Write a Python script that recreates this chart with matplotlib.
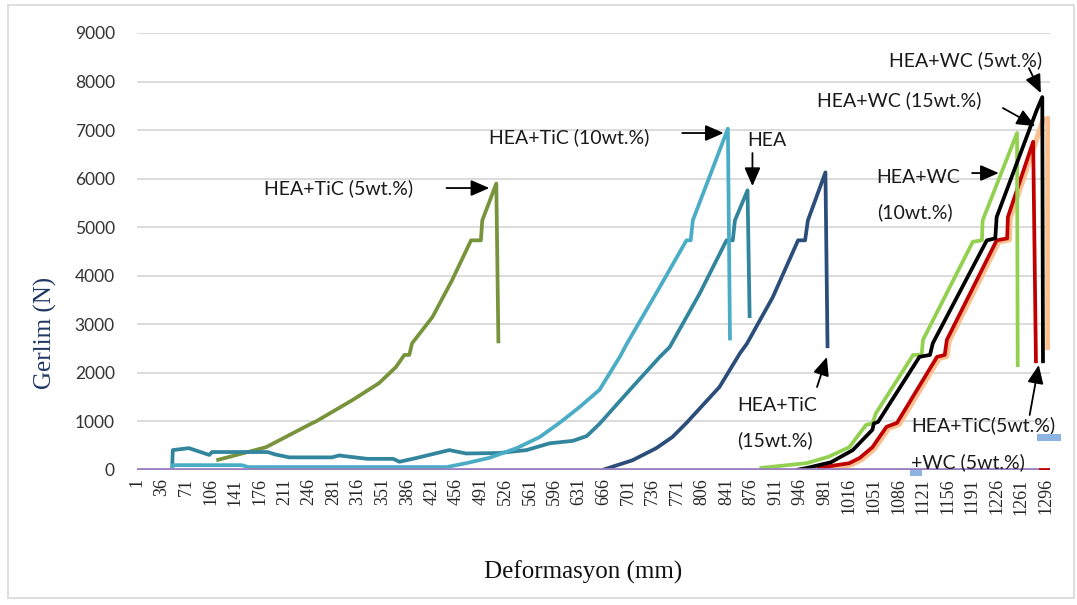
import numpy as np
import matplotlib
matplotlib.use("Agg")
import matplotlib.pyplot as plt
from matplotlib.patches import Rectangle

# ---- data: (category index, load in N) ----
tic5_x = [114, 185, 250, 256, 308, 346, 370, 382, 389, 393, 422, 450, 477, 491, 493, 513, 516]
tic5_y = [200, 470, 960, 1000, 1440, 1790, 2120, 2370, 2370, 2610, 3150, 3910, 4730, 4730, 5140, 5900, 2610]

tic10_x = [51, 52, 150, 160, 442, 470, 503, 542, 575, 603, 632, 660, 689, 699, 746, 784, 790, 793, 843, 846]
tic10_y = [0, 100, 100, 60, 60, 140, 250, 450, 680, 970, 1300, 1650, 2330, 2600, 3770, 4730, 4730, 5140, 7030, 2670]

hea_x = [51, 52, 75, 104, 108, 187, 198, 218, 279, 289, 300, 329, 366, 375, 400, 446, 470, 517, 556, 589,
         622, 642, 660, 707, 746, 760, 803, 841, 850, 853, 871, 874]
hea_y = [0, 410, 450, 310, 370, 370, 320, 260, 260, 300, 280, 230, 230, 170, 250, 410, 340, 350, 410, 550,
         600, 700, 950, 1710, 2330, 2530, 3640, 4730, 4730, 5140, 5760, 3130]

tic15_x = [664, 707, 741, 764, 784, 831, 860, 870, 907, 943, 953, 957, 982, 985]
tic15_y = [0, 200, 450, 680, 970, 1710, 2400, 2600, 3560, 4730, 4730, 5140, 6130, 2510]

wc10_x = [888, 955, 986, 1016, 1040, 1049, 1054, 1107, 1119, 1121, 1192, 1205, 1206, 1255, 1256]
wc10_y = [40, 140, 270, 470, 930, 960, 1170, 2370, 2370, 2680, 4700, 4730, 5140, 6940, 2120]

wc5_x = [940, 955, 990, 1021, 1049, 1051, 1057, 1116, 1131, 1135, 1212, 1224, 1226, 1283, 1291, 1292]
wc5_y = [0, 40, 160, 410, 830, 960, 990, 2330, 2370, 2610, 4730, 4770, 5210, 7410, 7680, 2200]

wc15_x = [970, 1016, 1031, 1049, 1069, 1084, 1141, 1152, 1155, 1226, 1241, 1242, 1278, 1282,
          1284, 1286, 1302]
wc15_y = [40, 140, 250, 470, 890, 970, 2330, 2370, 2680, 4730, 4770, 5210, 6760, 2200,
          np.nan, 0, 0]

ticwc_x = [973, 1019, 1034, 1052, 1072, 1087, 1144, 1155, 1158, 1229, 1244, 1245, 1281, 1292, 1299, 1299]
ticwc_y = [0, 110, 220, 440, 860, 940, 2300, 2340, 2650, 4700, 4740, 5180, 6730, 7200, 7240, 2470]

base_x = [1, 1286]
base_y = [0, 0]

x_ticks = list(range(1, 1297, 35))
y_ticks = list(range(0, 9001, 1000))

# ---- figure ----
W, H = 1077, 605
fig = plt.figure(figsize=(W / 100, H / 100), dpi=100)
ax = fig.add_axes([137 / W, 1 - 470 / H, (1050 - 137) / W, (470 - 33) / H])

lw = 2.7
common = dict(solid_joinstyle="round", solid_capstyle="butt")
ax.plot(ticwc_x, ticwc_y, color="#FAC090", lw=3.8, zorder=3, **common)
ax.plot(tic5_x, tic5_y, color="#77933C", lw=lw, zorder=4, **common)
ax.plot(hea_x, hea_y, color="#31859C", lw=lw, zorder=4, **common)
ax.plot(tic10_x, tic10_y, color="#4BACC6", lw=lw, zorder=5, **common)
ax.plot(tic15_x, tic15_y, color="#2A4D7A", lw=lw, zorder=4, **common)
ax.plot(wc15_x, wc15_y, color="#C00000", lw=lw, zorder=5, **common)
ax.plot(wc10_x, wc10_y, color="#92D050", lw=lw, zorder=5, **common)
ax.plot(wc5_x, wc5_y, color="#000000", lw=lw, zorder=6, **common)
ax.plot(base_x, base_y, color="#9A80BE", lw=lw, zorder=7, **common)

ax.set_xlim(1, 1302)
ax.set_ylim(0, 9000)
ax.set_yticks(y_ticks)
ax.set_xticks(x_ticks)
ax.set_xticklabels([str(v) for v in x_ticks], rotation=90,
                   fontfamily="Liberation Serif", fontsize=13, color="#262626")
ax.set_yticklabels([str(v) for v in y_ticks], fontfamily="Lato", fontsize=12.5, color="#333333")
ax.tick_params(axis="both", length=0)
ax.tick_params(axis="y", pad=16)
ax.tick_params(axis="x", pad=6)
for s in ax.spines.values():
    s.set_visible(False)
ax.grid(axis="y", color="#D9D9D9", lw=1.3, zorder=0)
ax.set_axisbelow(True)

fig.text(45 / W, 1 - 333 / H, "Gerlim (N)", rotation=90, ha="center", va="center",
         fontfamily="Liberation Serif", fontsize=18, color="#1F3864")
fig.text(583 / W, 1 - 572 / H, "Deformasyon (mm)", ha="center", va="center",
         fontfamily="Liberation Serif", fontsize=18, color="#111111")

# ---- annotations ----
tkw = dict(fontfamily="Lato", fontsize=14, color="#1a1a1a", va="center", ha="left", zorder=8)
akw = dict(arrowstyle="-|>,head_length=0.8,head_width=0.35", color="black", lw=1.3,
           shrinkA=0, shrinkB=0, mutation_scale=14)

def note(text, x, y):
    ax.text(x, y, text, **tkw)

def arrow(x0, y0, x1, y1):
    ax.annotate("", xy=(x1, y1), xytext=(x0, y0), arrowprops=akw, zorder=9)

note("HEA+TiC (5wt.%)", 182, 5807)
arrow(442, 5807, 503, 5807)

note("HEA+TiC (10wt.%)", 503, 6857)
arrow(778, 6940, 837, 6940)

note("HEA", 871, 6795)
arrow(878, 6527, 878, 5848)

note("HEA+TiC", 857, 1338)
note("(15wt.%)", 856, 618)
arrow(970, 1709, 984, 2327)

note("HEA+WC (5wt.%)", 1072, 8442)
arrow(1272, 8277, 1289, 7762)

note("HEA+WC (15wt.%)", 970, 7618)
arrow(1235, 7454, 1281, 7083)

note("HEA+WC", 1055, 6033)
note("(10wt.%)", 1055, 5312)
arrow(1191, 6116, 1229, 6116)

note("HEA+TiC(5wt.%)", 1104, 927)
note("+WC (5wt.%)", 1104, 165)
arrow(1273, 1133, 1286, 2162)

# ---- chart frame and small text-box handles ----
fig.add_artist(Rectangle((8 / W, 1 - 598 / H), (1074 - 8) / W, (598 - 5) / H,
                         transform=fig.transFigure, fill=False, edgecolor="#D9D9D9", lw=1.2))
fig.add_artist(Rectangle((1037 / W, 1 - 441 / H), 24 / W, 7 / H, transform=fig.transFigure,
                         facecolor="#8DB3E2", edgecolor="none", zorder=10))
fig.add_artist(Rectangle((910 / W, 1 - 476 / H), 12 / W, 6 / H, transform=fig.transFigure,
                         facecolor="#8DB3E2", edgecolor="none", zorder=10))

fig.savefig("out.png", dpi=100)
